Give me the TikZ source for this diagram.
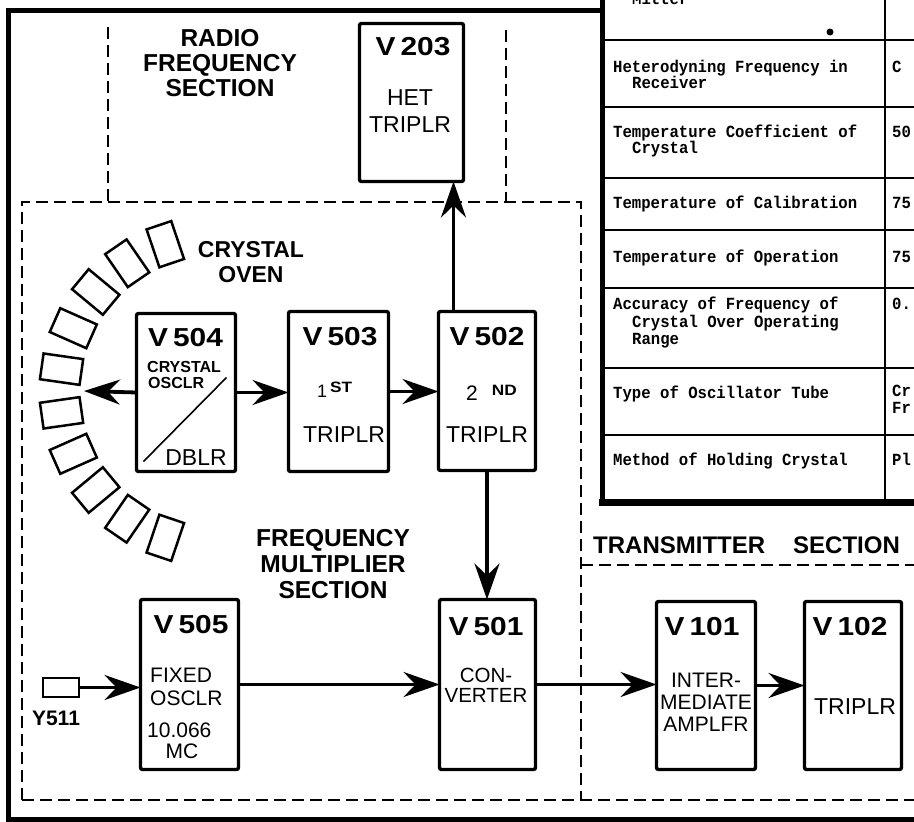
\documentclass[tikz,border=0pt]{standalone}
\usepackage{fontspec}
\setmainfont{Liberation Sans}
\newfontfamily\blkfont[FakeStretch=1.15]{Liberation Sans}
\newfontfamily\tabfont[FakeStretch=0.92]{Liberation Mono}
\usetikzlibrary{arrows.meta,calc}
\begin{document}
\begin{tikzpicture}[x=1pt,y=-1pt,
  blk/.style={draw, line width=3.4pt, rounded corners=2pt, inner sep=0pt, outer sep=0pt},
  vnum/.style={inner sep=0pt, font=\blkfont\bfseries\fontsize{26}{26}\selectfont},
  btxt/.style={inner sep=0pt, align=center, font=\fontsize{23}{27}\selectfont},
  stxt/.style={inner sep=0pt, align=center, font=\fontsize{20.5}{20}\selectfont},
  mtxt/.style={inner sep=0pt, align=center, font=\fontsize{21}{22}\selectfont},
  ftxt/.style={inner sep=0pt, anchor=west, font=\fontsize{21}{21}\selectfont},
  sec/.style={inner sep=0pt, align=center, font=\bfseries\fontsize{24.5}{25}\selectfont},
  tab/.style={inner sep=0pt, anchor=base west, font=\tabfont\bfseries\fontsize{17}{17}\selectfont},
  arr/.style={line width=3.8pt, -{Stealth[length=36pt,width=25pt,inset=12pt]}},
  dsh/.style={line width=1.8pt, dash pattern=on 12pt off 6pt},
  frame/.style={line width=5pt},
  oven/.style={draw, line width=2.5pt, minimum width=40pt, minimum height=26pt, inner sep=0pt}
]
\useasboundingbox (0,0) rectangle (914,822);
\fill[white] (0,0) rectangle (914,822);

% outer frame
\draw[frame] (914,819) -- (8.5,819) -- (8.5,10) -- (604,10);

% table
\draw[line width=5pt] (602.5,-5) -- (602.5,502);
\draw[line width=7pt] (599,502) -- (920,502);
\draw[line width=2.4pt] (885,-5) -- (885,502);
\foreach \yy in {40,107,178,230,288,368,435} \draw[line width=2.4pt] (602,\yy) -- (920,\yy);
\fill (830,32) circle (3.5pt);

\node[tab] (t0)  at (632,4)     {Mitter};
\node[tab] (t1a) at (613,72)    {Heterodyning Frequency in};
\node[tab] (t1b) at (632,88.5)  {Receiver};
\node[tab] (t2a) at (613,137)   {Temperature Coefficient of};
\node[tab] (t2b) at (632,153.5) {Crystal};
\node[tab] (t3)  at (613,208)   {Temperature of Calibration};
\node[tab] (t4)  at (613,262)   {Temperature of Operation};
\node[tab] (t5a) at (613,309)   {Accuracy of Frequency of};
\node[tab] (t5b) at (632,327)   {Crystal Over Operating};
\node[tab] (t5c) at (632,344)   {Range};
\node[tab] (t6)  at (613,398)   {Type of Oscillator Tube};
\node[tab] (t7)  at (613,465)   {Method of Holding Crystal};

\node[tab] (r1) at (892,72)  {C};
\node[tab] (r2) at (892,137) {50};
\node[tab] (r3) at (892,208) {75};
\node[tab] (r4) at (892,262) {75};
\node[tab] (r5) at (892,309) {0.};
\node[tab] (r6a) at (892,396) {Cr};
\node[tab] (r6b) at (892,413) {Fr};
\node[tab] (r7) at (892,465) {Pl};

% dashed section borders
\draw[dsh] (108,27) -- (108,202);
\draw[dsh] (506,30) -- (506,202);
\draw[dsh] (22,800) -- (22,202) -- (581,202) -- (581,800);
\draw[dsh] (22,800) -- (914,800);
\draw[dsh] (581,565) -- (914,565);

% section labels
\node[sec] (rfsec) at (220,63) {RADIO\\FREQUENCY\\SECTION};
\node[sec, font=\bfseries\fontsize{23}{25}\selectfont] (ovenlbl) at (251,262.5) {CRYSTAL\\OVEN};
\node[sec, font=\bfseries\fontsize{24.5}{26}\selectfont] (fmsec) at (333,564) {FREQUENCY\\MULTIPLIER\\SECTION};
\node[sec, anchor=west, font=\bfseries\fontsize{24}{24}\selectfont] (txsec) at (593,545) {TRANSMITTER\hspace{28pt}SECTION};

% blocks
\node[blk, minimum width=104pt, minimum height=158pt] (v203) at (411.5,102.5) {};
\node[blk, minimum width=99pt,  minimum height=158pt] (v504) at (186,392.5) {};
\node[blk, minimum width=100pt, minimum height=160pt] (v503) at (338.5,391.5) {};
\node[blk, minimum width=97pt,  minimum height=159pt] (v502) at (487,391) {};
\node[blk, minimum width=98pt,  minimum height=170pt] (v505) at (189.5,684.5) {};
\node[blk, minimum width=96pt,  minimum height=170pt] (v501) at (487.5,684.5) {};
\node[blk, minimum width=99pt,  minimum height=168pt] (v101) at (706,685.5) {};
\node[blk, minimum width=97pt,  minimum height=168pt] (v102) at (853,685.5) {};
\node[draw, line width=2.5pt, minimum width=36pt, minimum height=19pt, inner sep=0pt] (y511) at (61,687.5) {};

% crystal oven
\foreach \a [count=\i] in {108.7,124.5,140.3,156.1,171.9,188.1,203.9,219.7,235.5,251.3}
  \node[oven, rotate=\a] (oven\i) at ({215+155*cos(\a)},{391-155*sin(\a)}) {};

% block texts
\node[vnum] (v203n) at (413,47) {V\hspace{5pt}203};
\node[btxt] (v203t) at (410,111) {HET\\TRIPLR};

\node[vnum] (v504n) at (185.5,338) {V\hspace{5pt}504};
\node[inner sep=0pt, anchor=west, font=\bfseries\fontsize{16}{16}\selectfont] (v504a) at (147,367) {CRYSTAL};
\node[inner sep=0pt, anchor=west, font=\bfseries\fontsize{16}{16}\selectfont] (v504b) at (148,383) {OSCLR};
\draw[line width=1.6pt] ([shift={(7,-10)}]v504.south west) -- ([shift={(-9,64)}]v504.north east);
\node[btxt] (v504c) at (196,458) {DBLR};

\node[vnum] (v503n) at (340,337) {V\hspace{5pt}503};
\node[inner sep=0pt, anchor=base west] (v503o) at (317,397) {\fontsize{18}{18}\selectfont 1\hspace{3pt}\raisebox{5pt}{\blkfont\bfseries\fontsize{15}{15}\selectfont ST}};
\node[btxt] (v503t) at (344,435) {TRIPLR};

\node[vnum] (v502n) at (487,337) {V\hspace{5pt}502};
\node[inner sep=0pt, anchor=base west] (v502o) at (466,400) {\fontsize{21}{21}\selectfont 2\hspace{14pt}\raisebox{5pt}{\blkfont\bfseries\fontsize{15}{15}\selectfont ND}};
\node[btxt] (v502t) at (487,435) {TRIPLR};

\node[vnum] (v505n) at (191,625) {V\hspace{5pt}505};
\node[ftxt] (v505a) at (150,675.5) {FIXED};
\node[ftxt] (v505b) at (150,698.5) {OSCLR};
\node[ftxt] (v505c) at (147,730) {10.066};
\node[inner sep=0pt, font=\fontsize{21}{21}\selectfont] (v505d) at (182,751) {MC};

\node[vnum] (v501n) at (486,627) {V\hspace{5pt}501};
\node[stxt] (v501t) at (486,685.5) {CON-\\VERTER};

\node[vnum] (v101n) at (702,627) {V\hspace{5pt}101};
\node[mtxt] (v101t) at (706,702) {INTER-\\MEDIATE\\AMPLFR};

\node[vnum] (v102n) at (850,627) {V\hspace{5pt}102};
\node[btxt] (v102t) at (855,707) {TRIPLR};

\node[inner sep=0pt, font=\bfseries\fontsize{21}{21}\selectfont] (y511t) at (56,718) {Y511};

% connectors
\coordinate (ovenin) at (84,391);
\draw[arr] (v504.west) -- (ovenin);
\draw[arr] (v504.east) -- (v504.east -| v503.west);
\draw[arr] (v503.east) -- (v503.east -| v502.west);
\coordinate (v502up) at ($(v502.north west)+(15,0)$);
\draw[arr] (v502up) -- (v502up |- v203.south);
\draw[arr] (v502.south) -- (v502.south |- v501.north);
\draw[arr] (y511.east) -- (y511.east -| v505.west);
\draw[arr] (v505.east) -- (v505.east -| v501.west);
\draw[arr] (v501.east) -- (v501.east -| v101.west);
\draw[arr] (v101.east) -- (v101.east -| v102.west);
\end{tikzpicture}
\end{document}
